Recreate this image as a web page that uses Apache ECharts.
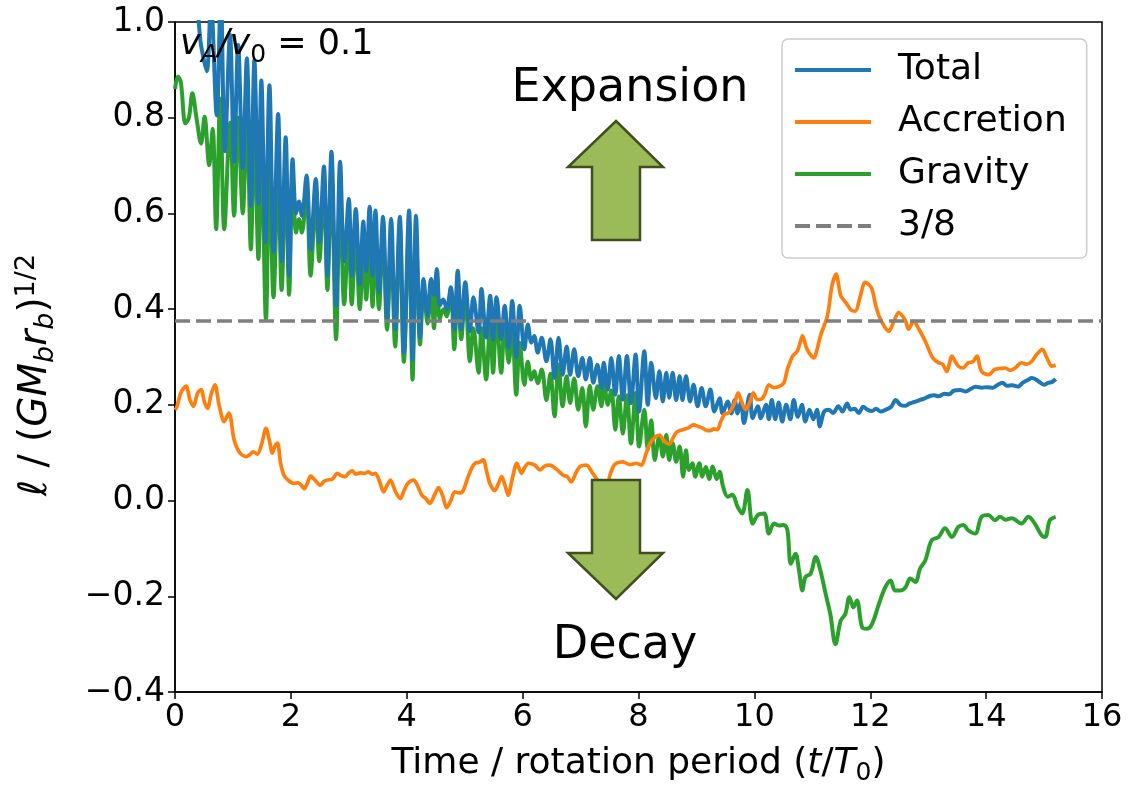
<!DOCTYPE html>
<html><head><meta charset="utf-8">
<script src="https://cdn.jsdelivr.net/npm/echarts@6/dist/echarts.min.js"></script>
<style>html,body{margin:0;padding:0;background:#fff}#c{width:1128px;height:793px}</style>
</head><body><div id="c"></div>
<script>
// ---- data: [time t/T0, value] ----
const totalData = [[0.00,1.08],[0.07,1.12],[0.14,1.10],[0.21,1.04],[0.28,1.08],[0.36,1.06],[0.44,0.96],[0.50,0.92],[0.55,0.897],[0.62,1.04],[0.72,0.805],[0.79,1.06],[0.86,0.73],[0.95,0.973],[1.02,0.708],[1.09,0.952],[1.17,0.694],[1.24,0.924],[1.31,0.616],[1.37,0.92],[1.44,0.62],[1.49,0.878],[1.56,0.54],[1.63,0.868],[1.70,0.52],[1.78,0.808],[1.84,0.50],[1.91,0.759],[1.97,0.47],[2.03,0.713],[2.09,0.60],[2.14,0.625],[2.19,0.595],[2.27,0.679],[2.34,0.525],[2.43,0.672],[2.49,0.54],[2.57,0.698],[2.63,0.47],[2.70,0.729],[2.78,0.407],[2.85,0.708],[2.92,0.50],[3.00,0.63],[3.05,0.47],[3.12,0.609],[3.19,0.452],[3.25,0.583],[3.30,0.48],[3.36,0.614],[3.41,0.47],[3.46,0.606],[3.52,0.435],[3.59,0.593],[3.66,0.379],[3.73,0.589],[3.80,0.358],[3.88,0.593],[3.95,0.309],[4.04,0.606],[4.10,0.295],[4.16,0.595],[4.23,0.341],[4.29,0.463],[4.36,0.386],[4.42,0.463],[4.47,0.43],[4.52,0.484],[4.57,0.407],[4.63,0.42],[4.69,0.40],[4.76,0.446],[4.82,0.358],[4.88,0.48],[4.94,0.358],[5.01,0.456],[5.09,0.354],[5.15,0.425],[5.24,0.351],[5.29,0.442],[5.37,0.341],[5.44,0.428],[5.49,0.337],[5.55,0.425],[5.63,0.337],[5.69,0.407],[5.76,0.32],[5.82,0.417],[5.89,0.30],[5.95,0.407],[6.03,0.316],[6.09,0.368],[6.15,0.33],[6.20,0.344],[6.26,0.309],[6.33,0.34],[6.41,0.291],[6.48,0.337],[6.55,0.256],[6.62,0.34],[6.69,0.263],[6.76,0.322],[6.82,0.263],[6.89,0.316],[6.96,0.26],[7.03,0.298],[7.09,0.253],[7.16,0.298],[7.22,0.246],[7.29,0.284],[7.36,0.235],[7.40,0.288],[7.47,0.232],[7.53,0.298],[7.60,0.221],[7.66,0.302],[7.73,0.211],[7.80,0.302],[7.87,0.204],[7.95,0.305],[8.01,0.186],[8.10,0.312],[8.16,0.20],[8.22,0.288],[8.30,0.214],[8.36,0.27],[8.42,0.207],[8.48,0.267],[8.53,0.215],[8.59,0.267],[8.65,0.21],[8.71,0.26],[8.76,0.21],[8.82,0.26],[8.89,0.207],[8.95,0.242],[9.02,0.197],[9.09,0.235],[9.16,0.197],[9.24,0.232],[9.31,0.186],[9.40,0.214],[9.45,0.182],[9.54,0.207],[9.60,0.182],[9.66,0.21],[9.71,0.182],[9.77,0.207],[9.82,0.162],[9.92,0.221],[9.97,0.172],[10.06,0.197],[10.11,0.172],[10.20,0.20],[10.25,0.17],[10.30,0.21],[10.36,0.17],[10.42,0.205],[10.48,0.165],[10.55,0.20],[10.62,0.17],[10.68,0.21],[10.75,0.175],[10.82,0.20],[10.88,0.165],[10.95,0.19],[11.02,0.17],[11.08,0.19],[11.13,0.155],[11.20,0.185],[11.28,0.19],[11.36,0.183],[11.45,0.197],[11.52,0.186],[11.60,0.203],[11.66,0.19],[11.73,0.192],[11.80,0.183],[11.88,0.196],[11.95,0.19],[12.03,0.187],[12.10,0.192],[12.18,0.186],[12.27,0.19],[12.36,0.196],[12.44,0.21],[12.52,0.20],[12.60,0.198],[12.68,0.203],[12.76,0.206],[12.85,0.21],[12.93,0.213],[13.02,0.218],[13.10,0.22],[13.18,0.218],[13.28,0.223],[13.36,0.222],[13.45,0.23],[13.55,0.231],[13.65,0.228],[13.73,0.233],[13.82,0.238],[13.92,0.236],[14.02,0.237],[14.12,0.236],[14.20,0.242],[14.28,0.246],[14.36,0.24],[14.45,0.241],[14.55,0.238],[14.63,0.246],[14.72,0.252],[14.79,0.256],[14.86,0.253],[14.94,0.246],[15.00,0.242],[15.07,0.246],[15.14,0.248],[15.20,0.254]];

const accretionData = [[0.00,0.19],[0.03,0.195],[0.10,0.225],[0.19,0.239],[0.26,0.21],[0.32,0.197],[0.39,0.225],[0.45,0.232],[0.51,0.205],[0.56,0.193],[0.63,0.225],[0.69,0.242],[0.76,0.20],[0.85,0.165],[0.93,0.183],[1.02,0.127],[1.09,0.105],[1.16,0.095],[1.23,0.092],[1.28,0.095],[1.35,0.102],[1.42,0.097],[1.50,0.12],[1.57,0.151],[1.63,0.125],[1.68,0.099],[1.73,0.115],[1.77,0.12],[1.82,0.08],[1.88,0.053],[1.96,0.042],[2.05,0.036],[2.12,0.037],[2.18,0.032],[2.23,0.025],[2.28,0.035],[2.34,0.051],[2.42,0.042],[2.51,0.032],[2.57,0.04],[2.63,0.043],[2.72,0.045],[2.80,0.057],[2.87,0.052],[2.94,0.05],[3.00,0.058],[3.06,0.062],[3.12,0.055],[3.20,0.058],[3.27,0.057],[3.34,0.06],[3.40,0.055],[3.46,0.057],[3.53,0.04],[3.60,0.018],[3.66,0.032],[3.72,0.043],[3.80,0.02],[3.89,0.004],[3.95,0.02],[4.02,0.036],[4.12,0.043],[4.19,0.03],[4.26,0.011],[4.33,0.004],[4.40,-0.006],[4.48,0.012],[4.55,0.027],[4.62,0.01],[4.69,-0.015],[4.76,0.00],[4.83,0.018],[4.90,0.016],[4.97,0.02],[5.06,0.05],[5.13,0.07],[5.18,0.078],[5.25,0.08],[5.32,0.085],[5.38,0.06],[5.44,0.034],[5.52,0.021],[5.58,0.035],[5.64,0.05],[5.70,0.03],[5.75,0.011],[5.82,0.045],[5.90,0.078],[5.98,0.057],[6.04,0.07],[6.10,0.078],[6.21,0.074],[6.30,0.064],[6.38,0.072],[6.47,0.074],[6.58,0.066],[6.70,0.053],[6.77,0.05],[6.84,0.039],[6.92,0.058],[6.99,0.071],[7.10,0.074],[7.21,0.057],[7.33,0.036],[7.40,0.02],[7.45,0.015],[7.50,0.05],[7.56,0.07],[7.62,0.078],[7.73,0.081],[7.85,0.075],[7.96,0.078],[8.05,0.074],[8.13,0.098],[8.20,0.12],[8.28,0.132],[8.36,0.137],[8.44,0.125],[8.53,0.118],[8.60,0.132],[8.66,0.143],[8.76,0.148],[8.86,0.152],[8.95,0.158],[9.03,0.155],[9.10,0.152],[9.17,0.147],[9.24,0.146],[9.30,0.15],[9.36,0.148],[9.42,0.165],[9.48,0.18],[9.55,0.183],[9.60,0.19],[9.66,0.205],[9.72,0.225],[9.78,0.206],[9.85,0.19],[9.92,0.205],[9.98,0.225],[10.05,0.211],[10.12,0.212],[10.18,0.222],[10.25,0.242],[10.33,0.236],[10.42,0.238],[10.51,0.246],[10.57,0.274],[10.66,0.302],[10.74,0.312],[10.79,0.33],[10.83,0.344],[10.91,0.316],[11.03,0.298],[11.08,0.315],[11.14,0.344],[11.26,0.386],[11.34,0.449],[11.41,0.473],[11.49,0.428],[11.55,0.418],[11.60,0.41],[11.67,0.398],[11.74,0.396],[11.83,0.428],[11.91,0.456],[11.97,0.452],[12.03,0.442],[12.09,0.41],[12.15,0.386],[12.24,0.365],[12.32,0.354],[12.41,0.375],[12.49,0.393],[12.56,0.385],[12.61,0.375],[12.66,0.358],[12.75,0.375],[12.84,0.358],[12.95,0.333],[13.06,0.302],[13.12,0.293],[13.18,0.288],[13.25,0.285],[13.32,0.27],[13.41,0.302],[13.47,0.29],[13.52,0.281],[13.60,0.277],[13.69,0.288],[13.77,0.29],[13.84,0.302],[13.92,0.27],[14.04,0.263],[14.15,0.274],[14.25,0.276],[14.33,0.277],[14.42,0.272],[14.50,0.277],[14.61,0.288],[14.70,0.285],[14.78,0.29],[14.87,0.305],[14.97,0.316],[15.05,0.298],[15.13,0.281],[15.20,0.283]];

const gravityData = [[0.00,0.86],[0.05,0.886],[0.10,0.875],[0.18,0.788],[0.24,0.80],[0.30,0.851],[0.37,0.80],[0.45,0.746],[0.51,0.802],[0.59,0.701],[0.65,0.777],[0.71,0.567],[0.78,0.84],[0.85,0.567],[0.95,0.79],[1.02,0.595],[1.09,0.80],[1.17,0.60],[1.24,0.80],[1.31,0.525],[1.37,0.79],[1.44,0.505],[1.49,0.74],[1.57,0.378],[1.63,0.72],[1.70,0.425],[1.78,0.68],[1.84,0.44],[1.91,0.70],[1.97,0.43],[2.03,0.67],[2.09,0.56],[2.14,0.588],[2.19,0.56],[2.27,0.645],[2.34,0.47],[2.43,0.63],[2.49,0.50],[2.57,0.655],[2.63,0.44],[2.70,0.68],[2.78,0.337],[2.85,0.65],[2.92,0.41],[3.00,0.57],[3.05,0.41],[3.12,0.55],[3.19,0.40],[3.25,0.52],[3.30,0.42],[3.36,0.555],[3.41,0.405],[3.46,0.55],[3.52,0.40],[3.59,0.56],[3.66,0.357],[3.73,0.545],[3.80,0.322],[3.88,0.57],[3.95,0.29],[4.04,0.57],[4.10,0.253],[4.16,0.55],[4.23,0.326],[4.29,0.44],[4.36,0.37],[4.42,0.46],[4.47,0.36],[4.52,0.47],[4.57,0.38],[4.63,0.40],[4.69,0.385],[4.76,0.44],[4.82,0.316],[4.88,0.46],[4.94,0.337],[5.01,0.43],[5.09,0.291],[5.15,0.36],[5.24,0.267],[5.29,0.36],[5.37,0.253],[5.44,0.38],[5.49,0.267],[5.55,0.39],[5.63,0.267],[5.69,0.37],[5.76,0.288],[5.82,0.36],[5.89,0.221],[5.95,0.33],[6.03,0.242],[6.09,0.29],[6.15,0.253],[6.20,0.27],[6.26,0.245],[6.33,0.274],[6.41,0.21],[6.48,0.265],[6.55,0.176],[6.62,0.284],[6.69,0.197],[6.76,0.26],[6.82,0.204],[6.89,0.255],[6.96,0.19],[7.03,0.235],[7.09,0.155],[7.16,0.24],[7.22,0.19],[7.29,0.239],[7.36,0.197],[7.40,0.26],[7.47,0.20],[7.53,0.23],[7.60,0.148],[7.66,0.218],[7.73,0.14],[7.80,0.22],[7.87,0.119],[7.95,0.225],[8.01,0.113],[8.10,0.19],[8.16,0.106],[8.22,0.168],[8.28,0.085],[8.36,0.134],[8.42,0.092],[8.48,0.137],[8.53,0.085],[8.59,0.12],[8.65,0.081],[8.71,0.113],[8.77,0.05],[8.82,0.105],[8.87,0.064],[8.93,0.078],[8.98,0.05],[9.05,0.078],[9.10,0.05],[9.16,0.07],[9.22,0.045],[9.28,0.071],[9.35,0.045],[9.40,0.06],[9.46,0.029],[9.54,0.008],[9.62,0.012],[9.71,-0.013],[9.79,-0.027],[9.88,0.022],[9.97,-0.048],[10.06,-0.03],[10.17,-0.027],[10.25,-0.069],[10.34,-0.048],[10.42,-0.052],[10.51,-0.051],[10.57,-0.062],[10.63,-0.132],[10.71,-0.111],[10.77,-0.146],[10.83,-0.188],[10.88,-0.16],[10.97,-0.153],[11.06,-0.118],[11.14,-0.146],[11.23,-0.195],[11.31,-0.237],[11.40,-0.30],[11.49,-0.251],[11.57,-0.237],[11.64,-0.202],[11.71,-0.223],[11.77,-0.209],[11.86,-0.265],[11.94,-0.268],[12.03,-0.258],[12.15,-0.216],[12.26,-0.181],[12.35,-0.167],[12.43,-0.188],[12.52,-0.188],[12.61,-0.181],[12.69,-0.163],[12.78,-0.17],[12.86,-0.142],[12.95,-0.125],[13.06,-0.083],[13.18,-0.076],[13.29,-0.058],[13.41,-0.076],[13.52,-0.055],[13.61,-0.051],[13.69,-0.062],[13.81,-0.069],[13.92,-0.034],[14.04,-0.03],[14.15,-0.041],[14.24,-0.034],[14.34,-0.04],[14.44,-0.037],[14.61,-0.048],[14.73,-0.034],[14.84,-0.048],[14.96,-0.073],[15.02,-0.076],[15.10,-0.041],[15.20,-0.034]];

const refT = [0, 16];
const refLevel = 0.375;
const seriesNames = ['Total', 'Accretion', 'Gravity', '3/8'];
const xTicks = [0, 2, 4, 6, 8, 10, 12, 14, 16];
const yTicks = [-0.4, -0.2, 0.0, 0.2, 0.4, 0.6, 0.8, 1.0];
const annotExpansion = 'Expansion';
const annotDecay = 'Decay';

// ---- chart ----
const FONT = 'DejaVu Sans';
const chart = echarts.init(document.getElementById('c'), null, {renderer: 'canvas'});
const refData = refT.map(t => [t, refLevel]);
const solidIcon = 'path://M0 0H76V4H0Z';
const dashIcon = 'path://M0 0H15V4H0Z M21 0H36V4H21Z M42 0H57V4H42Z M63 0H76V4H63Z';

const option = {
  animation: false,
  backgroundColor: '#ffffff',
  grid: {left: 175, right: 26, top: 22, bottom: 101, show: true, borderColor: '#000', borderWidth: 1.5, backgroundColor: 'transparent'},
  xAxis: {
    type: 'value', min: xTicks[0], max: xTicks[xTicks.length - 1], interval: xTicks[1] - xTicks[0],
    axisLine: {onZero: false, lineStyle: {color: '#000', width: 1.5}},
    axisTick: {show: true, inside: false, length: 7, lineStyle: {color: '#000', width: 1.5}},
    axisLabel: {fontFamily: FONT, fontSize: 32, color: '#000', margin: 10},
    splitLine: {show: false},
    name: 'Time / rotation period ({i|t}/{i|T}{s|0})',
    nameLocation: 'middle', nameGap: 50,
    nameTextStyle: {fontFamily: FONT, fontSize: 36, color: '#000', lineHeight: 44,
      rich: {i: {fontFamily: FONT, fontSize: 36, fontStyle: 'italic', color: '#000', lineHeight: 44},
             s: {fontFamily: FONT, fontSize: 25, color: '#000', lineHeight: 25, verticalAlign: 'bottom'}}}
  },
  yAxis: {
    type: 'value', min: yTicks[0], max: yTicks[yTicks.length - 1], interval: 0.2,
    axisLine: {show: true, onZero: false, lineStyle: {color: '#000', width: 1.5}},
    axisTick: {show: true, inside: false, length: 7, lineStyle: {color: '#000', width: 1.5}},
    axisLabel: {fontFamily: FONT, fontSize: 33, color: '#000', margin: 10,
      formatter: v => { const s = (Math.abs(v) < 1e-9 ? 0 : v).toFixed(1); return s.replace('-', '\u2212'); }},
    splitLine: {show: false},
    name: '{i|\u2113} / ({i|GM}{s|b}{i|r}{s|b}){u|1/2}',
    nameLocation: 'middle', nameGap: 116, nameRotate: 90,
    nameTextStyle: {fontFamily: FONT, fontSize: 39, color: '#000', lineHeight: 46, padding: [0, 36, 0, 0],
      rich: {i: {fontFamily: FONT, fontSize: 39, fontStyle: 'italic', color: '#000', lineHeight: 46},
             s: {fontFamily: FONT, fontSize: 27, fontStyle: 'italic', color: '#000', lineHeight: 27, verticalAlign: 'bottom'},
             u: {fontFamily: FONT, fontSize: 27, color: '#000', lineHeight: 27, verticalAlign: 'top'}}}
  },
  legend: {
    orient: 'vertical', left: 782, top: 39,
    data: [
      {name: seriesNames[0], icon: solidIcon},
      {name: seriesNames[1], icon: solidIcon},
      {name: seriesNames[2], icon: solidIcon},
      {name: seriesNames[3], icon: dashIcon}
    ],
    itemWidth: 76, itemHeight: 4, itemGap: 12,
    padding: [11, 20, 12, 13],
    backgroundColor: 'rgba(255,255,255,0.8)', borderColor: '#cccccc', borderWidth: 1.5, borderRadius: 6,
    selectedMode: false,
    textStyle: {fontFamily: FONT, fontSize: 36, color: '#000', lineHeight: 40, padding: [0, 0, 0, 22]}
  },
  series: [
    {name: 'Gravity', type: 'line', data: gravityData, symbol: 'none', showSymbol: false, smooth: 0.35,
     lineStyle: {color: '#2ca02c', width: 4}, itemStyle: {color: '#2ca02c'}, z: 2},
    {name: 'Total', type: 'line', data: totalData, symbol: 'none', showSymbol: false, smooth: 0.35,
     lineStyle: {color: '#1f77b4', width: 4}, itemStyle: {color: '#1f77b4'}, z: 3},
    {name: 'Accretion', type: 'line', data: accretionData, symbol: 'none', showSymbol: false, smooth: 0.3,
     lineStyle: {color: '#ff7f0e', width: 3.7}, itemStyle: {color: '#ff7f0e'}, z: 4},
    {name: '3/8', type: 'line', data: refData, symbol: 'none', showSymbol: false,
     lineStyle: {color: '#7f7f7f', width: 3.5, type: [15, 6]}, itemStyle: {color: '#7f7f7f'}, z: 5}
  ],
  graphic: [
    {type: 'polygon', z: 100, shape: {points: [[616,121],[663,167],[640,167],[640,240],[592,240],[592,167],[568,167]]},
     style: {fill: '#9bbb59', stroke: '#3f4f1f', lineWidth: 2.5}},
    {type: 'polygon', z: 100, shape: {points: [[592,480],[640,480],[640,553],[663,553],[616,599],[568,553],[592,553]]},
     style: {fill: '#9bbb59', stroke: '#3f4f1f', lineWidth: 2.5}},
    {type: 'text', z: 100, x: 630, y: 89, style: {text: annotExpansion, fontFamily: FONT, fontSize: 46, fill: '#000', align: 'center', verticalAlign: 'middle'}},
    {type: 'text', z: 100, x: 625, y: 646, style: {text: annotDecay, fontFamily: FONT, fontSize: 46, fill: '#000', align: 'center', verticalAlign: 'middle'}},
    {type: 'text', z: 100, x: 180, y: 45, style: {
      text: '{i|v}{s|A}{i|/v}{s0|0}{n| = 0.1}', align: 'left', verticalAlign: 'middle',
      rich: {i: {fontFamily: FONT, fontSize: 35, fontStyle: 'italic', fill: '#000', lineHeight: 46},
             n: {fontFamily: FONT, fontSize: 35, fill: '#000', lineHeight: 46},
             s: {fontFamily: FONT, fontSize: 25, fontStyle: 'italic', fill: '#000', lineHeight: 25, verticalAlign: 'bottom'},
             s0: {fontFamily: FONT, fontSize: 25, fill: '#000', lineHeight: 25, verticalAlign: 'bottom'}}}}
  ]
};
chart.setOption(option);
</script>
</body></html>
